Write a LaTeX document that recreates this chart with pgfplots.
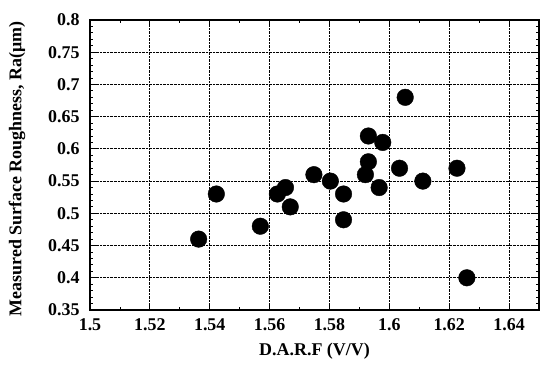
\documentclass[border=0pt]{standalone}
\usepackage{fontspec}
\setmainfont{Liberation Serif}
\usepackage{pgfplots}
\pgfplotsset{compat=1.18}
\begin{document}
\begin{tikzpicture}
\begin{axis}[
  name=ax,
  scale only axis,
  width=449bp, height=290bp,
  xmin=1.5, xmax=1.65, ymin=0.35, ymax=0.8,
  xtick={1.5,1.52,1.54,1.56,1.58,1.6,1.62,1.64},
  ytick={0.35,0.4,0.45,0.5,0.55,0.6,0.65,0.7,0.75,0.8},
  xticklabels={1.5,1.52,1.54,1.56,1.58,1.6,1.62,1.64},
  yticklabels={0.35,0.4,0.45,0.5,0.55,0.6,0.65,0.7,0.75,0.8},
  minor x tick num=1, minor y tick num=4,
  tick align=inside,
  major tick length=6bp, minor tick length=3bp,
  grid=major,
  major grid style={black, densely dotted, line width=0.8pt},
  axis line style={line width=1.8pt},
  every tick/.style={black, line width=0.8pt},
  tick label style={font=\fontsize{18}{20}\selectfont\bfseries},
  xticklabel style={yshift=-5bp},
  yticklabel style={xshift=-7bp},
  xlabel={D.A.R.F (V/V)},
  ylabel={Measured Surface Roughness, Ra(μm)},
  label style={font=\fontsize{18}{20}\selectfont\bfseries},
  xlabel style={yshift=-6bp},
  ylabel style={yshift=16bp, xshift=-4bp},
]
\addplot[only marks, mark=*, mark size=8.3bp, black] coordinates {
(1.5363,0.46) (1.5422,0.53) (1.5569,0.48) (1.5669,0.51) (1.5626,0.53)
(1.5653,0.54) (1.5748,0.56) (1.5803,0.55) (1.5847,0.53) (1.5847,0.49)
(1.5920,0.56) (1.5930,0.58) (1.5930,0.62) (1.5978,0.61) (1.5966,0.54)
(1.6034,0.57) (1.6112,0.55) (1.6226,0.57) (1.6053,0.68) (1.6259,0.40)
};
\end{axis}
\pgfresetboundingbox
\path ([shift={(-90bp,-60bp)}]ax.south west) rectangle ([shift={(1bp,20bp)}]ax.north east);
\end{tikzpicture}
\end{document}
